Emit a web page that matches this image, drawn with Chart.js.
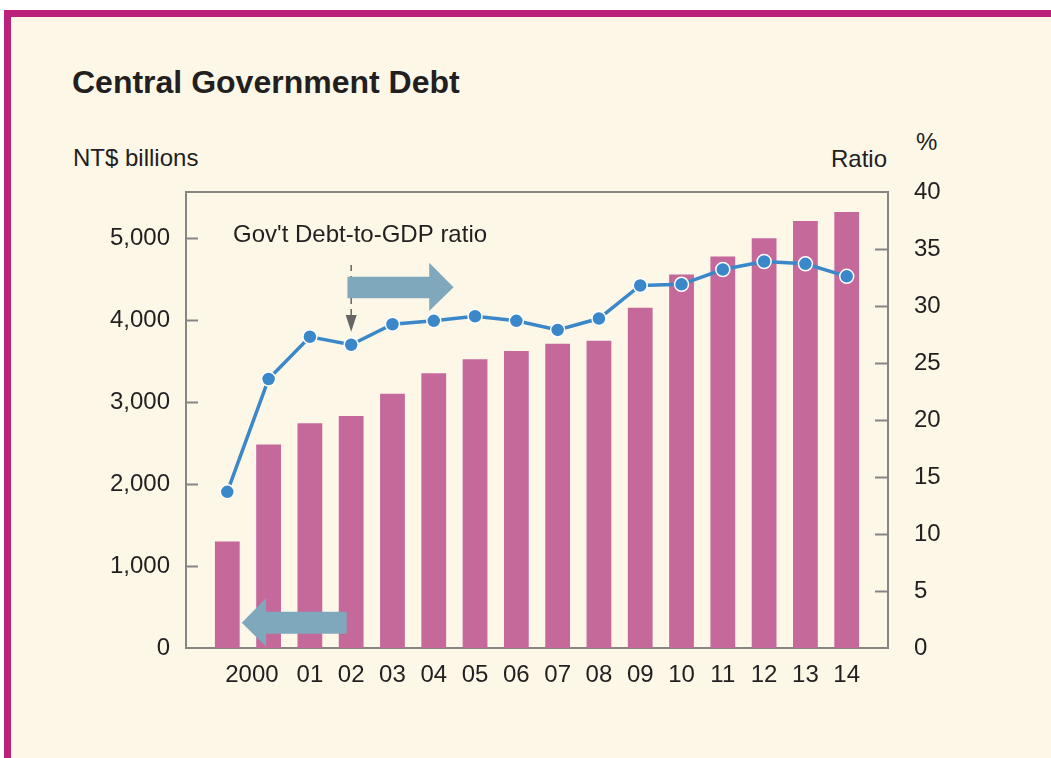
<!DOCTYPE html>
<html>
<head>
<meta charset="utf-8">
<title>Central Government Debt</title>
<script src="https://cdn.jsdelivr.net/npm/chart.js@4.4.1/dist/chart.umd.min.js"></script>
<style>
  html, body { margin: 0; padding: 0; background: #ffffff; overflow: hidden; }
  body { width: 1051px; height: 758px; position: relative; font-family: 'Liberation Sans', Arial, sans-serif; color: #231f20; }
  .panel {
    position: absolute; left: 4px; top: 10px; width: 1100px; height: 800px;
    background: #fdf7e8; border-top: 7px solid #b9217a; border-left: 7px solid #b9217a;
  }
  .txt { position: absolute; line-height: 1; white-space: nowrap; font-size: 24px; }
  .title { font-size: 32px; font-weight: bold; left: 72px; top: 66px; }
  #wrap { position: absolute; left: 0; top: 0; width: 1051px; height: 758px; }
</style>
</head>
<body>
<div class="panel"></div>
<div class="txt title">Central Government Debt</div>
<div class="txt" style="left:73px; top:146px;">NT$ billions</div>
<div class="txt" style="right:164px; top:147px; text-align:right;">Ratio</div>
<div class="txt" style="left:916px; top:130px;">%</div>
<div id="wrap"><canvas id="chart-debt" width="1051" height="758"></canvas></div>

<script>
// fiscal years 1999-2014
const years = ['1999', '2000', '2001', '2002', '2003', '2004', '2005', '2006',
               '2007', '2008', '2009', '2010', '2011', '2012', '2013', '2014'];
const yearLabels = ['', '2000', '01', '02', '03', '04', '05', '06',
                    '07', '08', '09', '10', '11', '12', '13', '14'];
// outstanding debt, NT$ billions
const debt = [1300, 2480, 2740, 2830, 3100, 3350, 3520, 3620,
              3710, 3745, 4150, 4555, 4775, 4995, 5205, 5315];
// debt-to-GDP ratio, %
const ratio = [13.7, 23.6, 27.3, 26.6, 28.4, 28.7, 29.1, 28.7,
               27.9, 28.9, 31.8, 31.9, 33.2, 33.9, 33.7, 32.6];
const debtTicks = [0, 1000, 2000, 3000, 4000, 5000];
const ratioTicks = [0, 5, 10, 15, 20, 25, 30, 35, 40];

// one empty slot on each side of the bars
const labels = ['', ...years, ''];
const tickText = ['', ...yearLabels, ''];
const pad = arr => [null, ...arr, null];

const FONT = "'Liberation Sans', Arial, sans-serif";
const INK = '#231f20';
const FRAME = '#858585';
const ARROW = '#7fa8bc';

// callout shapes, in category index / axis units
const note = { x: 1.14, y: 35.6, text: "Gov't Debt-to-GDP ratio" };
const rightArrow = { x0: 3.91, x1: 5.89, tip: 6.48, bodyTop: 32.57, bodyBot: 30.68, headTop: 33.8, headBot: 29.56, mid: 31.65 };
const leftArrow = { x0: 3.89, x1: 1.94, tip: 1.35, bodyTop: 443, bodyBot: 174, headTop: 610, headBot: 16, mid: 308 };
const pointer = { x: 4, top: 33.6, bot: 29.2, tip: 27.75 };

const decorations = {
  id: 'decorations',
  beforeDatasetsDraw(chart) {
    const { ctx, chartArea: a, scales } = chart;
    ctx.save();
    ctx.strokeStyle = FRAME;
    ctx.lineWidth = 2;
    ctx.strokeRect(a.left, a.top, a.right - a.left, a.bottom - a.top);
    // inward tick marks
    ctx.beginPath();
    scales.y.ticks.forEach(t => {
      if (t.value <= 0) return;
      const py = Math.round(scales.y.getPixelForValue(t.value)) + 0.5;
      ctx.moveTo(a.left, py); ctx.lineTo(a.left + 12, py);
    });
    scales.y1.ticks.forEach(t => {
      if (t.value <= 0 || t.value >= 40) return;
      const py = Math.round(scales.y1.getPixelForValue(t.value)) + 0.5;
      ctx.moveTo(a.right - 13, py); ctx.lineTo(a.right, py);
    });
    ctx.stroke();

    // dashed pointer to the 2002 point
    const px = scales.x.getPixelForValue(pointer.x);
    const r = scales.y1;
    ctx.strokeStyle = '#666666';
    ctx.lineWidth = 1.5;
    ctx.setLineDash([6, 5]);
    ctx.beginPath();
    ctx.moveTo(px, r.getPixelForValue(pointer.top));
    ctx.lineTo(px, r.getPixelForValue(pointer.bot));
    ctx.stroke();
    ctx.setLineDash([]);
    ctx.fillStyle = '#666666';
    ctx.beginPath();
    ctx.moveTo(px - 5.5, r.getPixelForValue(pointer.bot));
    ctx.lineTo(px + 5.5, r.getPixelForValue(pointer.bot));
    ctx.lineTo(px, r.getPixelForValue(pointer.tip));
    ctx.closePath();
    ctx.fill();

    // right arrow -> ratio axis
    drawArrow(ctx, scales.x, scales.y1, rightArrow);
    ctx.restore();
  },
  afterDatasetsDraw(chart) {
    const { ctx, scales } = chart;
    ctx.save();
    // left arrow -> debt axis, sits over the bars
    drawArrow(ctx, scales.x, scales.y, leftArrow);
    ctx.fillStyle = INK;
    ctx.font = '24px ' + FONT;
    ctx.textAlign = 'left';
    ctx.textBaseline = 'alphabetic';
    ctx.fillText(note.text, scales.x.getPixelForValue(note.x), scales.y1.getPixelForValue(note.y));
    ctx.restore();
  }
};

function drawArrow(ctx, xs, ys, s) {
  const X = v => xs.getPixelForValue(v);
  const Y = v => ys.getPixelForValue(v);
  ctx.fillStyle = ARROW;
  ctx.beginPath();
  ctx.moveTo(X(s.x0), Y(s.bodyTop));
  ctx.lineTo(X(s.x1), Y(s.bodyTop));
  ctx.lineTo(X(s.x1), Y(s.headTop));
  ctx.lineTo(X(s.tip), Y(s.mid));
  ctx.lineTo(X(s.x1), Y(s.headBot));
  ctx.lineTo(X(s.x1), Y(s.bodyBot));
  ctx.lineTo(X(s.x0), Y(s.bodyBot));
  ctx.closePath();
  ctx.fill();
}

const tickFont = { family: FONT, size: 24 };

new Chart(document.getElementById('chart-debt').getContext('2d'), {
  type: 'bar',
  data: {
    labels: labels,
    datasets: [
      {
        type: 'line',
        label: 'Debt-to-GDP ratio',
        data: pad(ratio),
        yAxisID: 'y1',
        borderColor: '#3a88c9',
        borderWidth: 3.5,
        pointBackgroundColor: '#3a88c9',
        pointBorderColor: '#ffffff',
        pointBorderWidth: 1.5,
        pointRadius: 7,
        tension: 0,
        order: 0
      },
      {
        label: 'Central government debt',
        data: pad(debt),
        yAxisID: 'y',
        backgroundColor: '#c5689a',
        categoryPercentage: 1,
        barPercentage: 0.6,
        order: 1
      }
    ]
  },
  options: {
    responsive: false,
    animation: false,
    events: [],
    layout: { padding: { left: 0, right: 0, top: 192, bottom: 60 } },
    plugins: { legend: { display: false }, tooltip: { enabled: false } },
    scales: {
      x: {
        offset: false,
        grid: { display: false, drawTicks: false },
        border: { display: false },
        afterFit: s => { s.height = 50; },
        ticks: {
          autoSkip: false, maxRotation: 0, padding: 13, color: INK, font: tickFont,
          // '2000' sits a little left of its bar
          callback: (v, i) => i === 2 ? tickText[i] + '\u00a0'.repeat(5) : tickText[i]
        }
      },
      y: {
        position: 'left',
        min: 0, max: 5560,
        afterBuildTicks: s => { s.ticks = debtTicks.map(v => ({ value: v })); },
        afterFit: s => { s.width = 186; },
        grid: { display: false, drawTicks: false },
        border: { display: false },
        ticks: { padding: 16, color: INK, font: tickFont, callback: v => v.toLocaleString('en-US') }
      },
      y1: {
        position: 'right',
        min: 0, max: 40,
        afterBuildTicks: s => { s.ticks = ratioTicks.map(v => ({ value: v })); },
        afterFit: s => { s.width = 163; },
        grid: { display: false, drawTicks: false },
        border: { display: false },
        ticks: { padding: 26, color: INK, font: tickFont }
      }
    }
  },
  plugins: [decorations]
});
</script>
</body>
</html>
